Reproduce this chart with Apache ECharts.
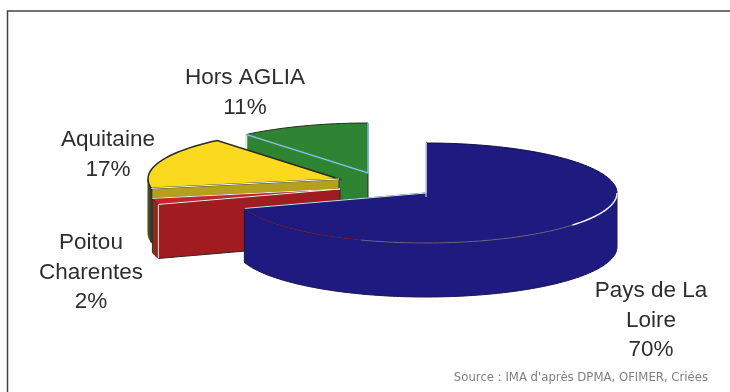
<!DOCTYPE html>
<html><head><meta charset="utf-8">
<style>html,body{margin:0;padding:0;background:#fff}#c{width:730px;height:392px}</style>
<script src="https://cdn.jsdelivr.net/npm/echarts@6/dist/echarts.min.js"></script>
</head><body><div id="c"></div>
<script>
// Data
const categories = ['Pays de La Loire', 'Poitou Charentes', 'Aquitaine', 'Hors AGLIA'];
const values = [70, 2, 17, 11];
const labelLines = [['Pays de La', 'Loire'], ['Poitou', 'Charentes'], ['Aquitaine'], ['Hors AGLIA']];
const sourceNote = "Source : IMA d'après DPMA, OFIMER, Criées";

// Styling and layout
const topColors = ['#1f1a80', '#c8242a', '#fbd91e', '#2e8432'];
const wallColors = ['#1f1a80', '#a01c20', '#b5a01e', '#2e8432'];
const rimColors = ['#1f1a80', '#8a2a20', '#4a4a20', '#2e8432'];
const edgeColors = ['#bfe0e8', '#f4f0e0', '#ffffff', '#7fc4dc'];
const apex = [[426, 193], [340, 189], [339, 179], [368, 173]];
const labelPos = [[651, 291], [91, 243], [108, 140], [245, 78]];
const RX = 191, RY = 50, DEPTH = 54, LH = 29.5;
const total = values.reduce((a, b) => a + b, 0);
const starts = [];
values.reduce((s, v, i) => (starts[i] = s, s + v), 0);
const drawOrder = [3, 2, 1, 0];

function pt(c, deg, dy) {
  const r = deg * Math.PI / 180;
  return [c[0] + RX * Math.sin(r), c[1] - RY * Math.cos(r) + (dy || 0)];
}
function arc(c, a, b, dy) {
  const out = [];
  const n = Math.max(2, Math.ceil((b - a) / 2));
  for (let i = 0; i <= n; i++) out.push(pt(c, a + (b - a) * i / n, dy));
  return out;
}
function renderItem(params, api) {
  const i = drawOrder[params.dataIndex];
  const v = api.value(1);
  const c = apex[i];
  const a = starts[i] / total * 360, b = a + v / total * 360;
  const kids = [];
  const poly = (points, fill, stroke, w) => kids.push({
    type: 'polygon', shape: { points },
    style: { fill: fill, stroke: stroke || fill, lineWidth: w === undefined ? 1 : w }
  });
  const line = (points, stroke, w) => kids.push({
    type: 'polyline', shape: { points },
    style: { fill: 'none', stroke, lineWidth: w || 1 }
  });
  const down = p => [p[0], p[1] + DEPTH];
  const pA = pt(c, a), pB = pt(c, b);

  if (i === 0) {
    const front = arc(c, 90, 252);
    poly(front.concat(front.map(down).reverse()), wallColors[i], '#1a1650');
  } else if (i === 1) {
    const front = arc(c, a, b);
    poly(front.concat(front.map(down).reverse()), rimColors[i], '#3a2a20');
    poly([c, down(c), down(pA), pA], wallColors[i], '#33261e');
    line([pA, down(pA)], '#f2eee0', 1);
  } else if (i === 2) {
    const front = arc(c, a, 270);
    poly(front.concat(front.map(down).reverse()), rimColors[i], rimColors[i]);
    poly([c, down(c), down(pA), pA], wallColors[i], '#2e3a30');
    line([pA, down(pA)], '#2e3a30', 2);
  } else {
    poly([c, down(c), down(pA), pA], wallColors[i], '#203020');
    line([pA, down(pA)], '#e8efe0', 2);
  }
  const top = [c].concat(arc(c, a, b));
  if (i === 0) {
    poly(top, topColors[i], '#101040', 1);
    line([pt(c, b), c, pt(c, 0)], '#c9e4ec', 1);
    line(arc(c, 90, 130), '#f4f4f0', 1.5);
    line(arc(c, 130, 200), '#6a6a90', 1);
    line(arc(c, 200, 252), '#6b2050', 1);
    line([pA, down(pA)], '#e8eef0', 1);
  } else if (i === 2) {
    poly(top, topColors[i], '#2a2a20', 1.5);
    line([c, pA], edgeColors[i], 1);
  } else {
    poly(top, topColors[i], i === 1 ? '#5a1a18' : '#2a2a20', 1);
    line([pB, c, pA], edgeColors[i], i === 1 ? 1 : 1.5);
  }
  return { type: 'group', children: kids };
}
function labelItem(params, api) {
  const i = params.dataIndex;
  const lines = labelLines[i].concat([api.value(1) + '%']);
  return {
    type: 'group',
    children: lines.map((t, k) => ({
      type: 'text',
      style: {
        text: t, x: labelPos[i][0], y: labelPos[i][1] + k * LH,
        font: '22.5px "Liberation Sans", Arial, sans-serif',
        fill: '#2e2e2e', textAlign: 'center', textVerticalAlign: 'middle'
      }
    }))
  };
}
const chart = echarts.init(document.getElementById('c'), null, { renderer: 'canvas' });
chart.setOption({
  backgroundColor: '#ffffff',
  animation: false,
  graphic: [
    { type: 'polyline', shape: { points: [[7.5, 392], [7.5, 11], [730, 11]] },
      style: { fill: 'none', stroke: '#444', lineWidth: 1.5 }, silent: true },
    { type: 'text', style: { text: sourceNote, x: 708, y: 378, textAlign: 'right', textVerticalAlign: 'middle',
      font: '11.7px "DejaVu Sans", sans-serif', fill: '#808080' } }
  ],
  series: [
    { type: 'custom', coordinateSystem: 'none', renderItem,
      data: drawOrder.map(i => [categories[i], values[i]]) },
    { type: 'custom', coordinateSystem: 'none', renderItem: labelItem,
      data: categories.map((n, i) => [n, values[i]]) }
  ]
});
</script></body></html>
